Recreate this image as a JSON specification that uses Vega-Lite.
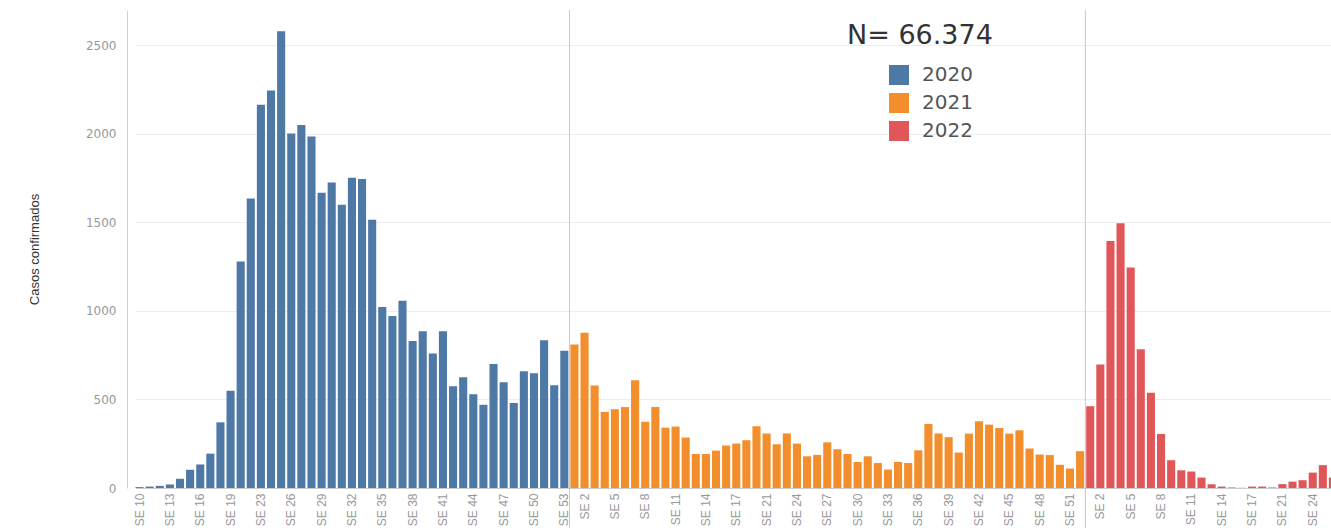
{
  "$schema": "https://vega.github.io/schema/vega-lite/v6.json",
  "width": 1204,
  "height": 478,
  "autosize": {"type": "none"},
  "padding": {"left": 127, "top": 10, "right": 0, "bottom": 40},
  "background": "white",
  "config": {"view": {"stroke": null}, "font": "DejaVu Sans"},
  "data": {"values": [
    {"sem": "2020 SE 10", "anio": "2020", "casos": 5},
    {"sem": "2020 SE 11", "anio": "2020", "casos": 8},
    {"sem": "2020 SE 12", "anio": "2020", "casos": 12},
    {"sem": "2020 SE 13", "anio": "2020", "casos": 20},
    {"sem": "2020 SE 14", "anio": "2020", "casos": 52},
    {"sem": "2020 SE 15", "anio": "2020", "casos": 103},
    {"sem": "2020 SE 16", "anio": "2020", "casos": 133},
    {"sem": "2020 SE 17", "anio": "2020", "casos": 194},
    {"sem": "2020 SE 18", "anio": "2020", "casos": 371},
    {"sem": "2020 SE 19", "anio": "2020", "casos": 550},
    {"sem": "2020 SE 20", "anio": "2020", "casos": 1280},
    {"sem": "2020 SE 21", "anio": "2020", "casos": 1635},
    {"sem": "2020 SE 23", "anio": "2020", "casos": 2165},
    {"sem": "2020 SE 24", "anio": "2020", "casos": 2245},
    {"sem": "2020 SE 25", "anio": "2020", "casos": 2580},
    {"sem": "2020 SE 26", "anio": "2020", "casos": 2002},
    {"sem": "2020 SE 27", "anio": "2020", "casos": 2050},
    {"sem": "2020 SE 28", "anio": "2020", "casos": 1985},
    {"sem": "2020 SE 29", "anio": "2020", "casos": 1668},
    {"sem": "2020 SE 30", "anio": "2020", "casos": 1725},
    {"sem": "2020 SE 31", "anio": "2020", "casos": 1600},
    {"sem": "2020 SE 32", "anio": "2020", "casos": 1752},
    {"sem": "2020 SE 33", "anio": "2020", "casos": 1745},
    {"sem": "2020 SE 34", "anio": "2020", "casos": 1515},
    {"sem": "2020 SE 35", "anio": "2020", "casos": 1022},
    {"sem": "2020 SE 36", "anio": "2020", "casos": 972},
    {"sem": "2020 SE 37", "anio": "2020", "casos": 1058},
    {"sem": "2020 SE 38", "anio": "2020", "casos": 830},
    {"sem": "2020 SE 39", "anio": "2020", "casos": 885},
    {"sem": "2020 SE 40", "anio": "2020", "casos": 760},
    {"sem": "2020 SE 41", "anio": "2020", "casos": 885},
    {"sem": "2020 SE 42", "anio": "2020", "casos": 575},
    {"sem": "2020 SE 43", "anio": "2020", "casos": 625},
    {"sem": "2020 SE 44", "anio": "2020", "casos": 530},
    {"sem": "2020 SE 45", "anio": "2020", "casos": 470},
    {"sem": "2020 SE 46", "anio": "2020", "casos": 700},
    {"sem": "2020 SE 47", "anio": "2020", "casos": 598},
    {"sem": "2020 SE 48", "anio": "2020", "casos": 480},
    {"sem": "2020 SE 49", "anio": "2020", "casos": 660},
    {"sem": "2020 SE 50", "anio": "2020", "casos": 648},
    {"sem": "2020 SE 51", "anio": "2020", "casos": 835},
    {"sem": "2020 SE 52", "anio": "2020", "casos": 580},
    {"sem": "2020 SE 53", "anio": "2020", "casos": 775},
    {"sem": "2021 SE 1", "anio": "2021", "casos": 811},
    {"sem": "2021 SE 2", "anio": "2021", "casos": 877},
    {"sem": "2021 SE 3", "anio": "2021", "casos": 579},
    {"sem": "2021 SE 4", "anio": "2021", "casos": 430},
    {"sem": "2021 SE 5", "anio": "2021", "casos": 445},
    {"sem": "2021 SE 6", "anio": "2021", "casos": 457},
    {"sem": "2021 SE 7", "anio": "2021", "casos": 608},
    {"sem": "2021 SE 8", "anio": "2021", "casos": 374},
    {"sem": "2021 SE 9", "anio": "2021", "casos": 458},
    {"sem": "2021 SE 10", "anio": "2021", "casos": 341},
    {"sem": "2021 SE 11", "anio": "2021", "casos": 347},
    {"sem": "2021 SE 12", "anio": "2021", "casos": 285},
    {"sem": "2021 SE 13", "anio": "2021", "casos": 192},
    {"sem": "2021 SE 14", "anio": "2021", "casos": 192},
    {"sem": "2021 SE 15", "anio": "2021", "casos": 211},
    {"sem": "2021 SE 16", "anio": "2021", "casos": 240},
    {"sem": "2021 SE 17", "anio": "2021", "casos": 251},
    {"sem": "2021 SE 18", "anio": "2021", "casos": 270},
    {"sem": "2021 SE 19", "anio": "2021", "casos": 349},
    {"sem": "2021 SE 21", "anio": "2021", "casos": 308},
    {"sem": "2021 SE 22", "anio": "2021", "casos": 247},
    {"sem": "2021 SE 23", "anio": "2021", "casos": 308},
    {"sem": "2021 SE 24", "anio": "2021", "casos": 251},
    {"sem": "2021 SE 25", "anio": "2021", "casos": 179},
    {"sem": "2021 SE 26", "anio": "2021", "casos": 187},
    {"sem": "2021 SE 27", "anio": "2021", "casos": 258},
    {"sem": "2021 SE 28", "anio": "2021", "casos": 219},
    {"sem": "2021 SE 29", "anio": "2021", "casos": 192},
    {"sem": "2021 SE 30", "anio": "2021", "casos": 147},
    {"sem": "2021 SE 31", "anio": "2021", "casos": 179},
    {"sem": "2021 SE 32", "anio": "2021", "casos": 141},
    {"sem": "2021 SE 33", "anio": "2021", "casos": 104},
    {"sem": "2021 SE 34", "anio": "2021", "casos": 147},
    {"sem": "2021 SE 35", "anio": "2021", "casos": 141},
    {"sem": "2021 SE 36", "anio": "2021", "casos": 213},
    {"sem": "2021 SE 37", "anio": "2021", "casos": 362},
    {"sem": "2021 SE 38", "anio": "2021", "casos": 308},
    {"sem": "2021 SE 39", "anio": "2021", "casos": 287},
    {"sem": "2021 SE 40", "anio": "2021", "casos": 200},
    {"sem": "2021 SE 41", "anio": "2021", "casos": 307},
    {"sem": "2021 SE 42", "anio": "2021", "casos": 377},
    {"sem": "2021 SE 43", "anio": "2021", "casos": 358},
    {"sem": "2021 SE 44", "anio": "2021", "casos": 339},
    {"sem": "2021 SE 45", "anio": "2021", "casos": 307},
    {"sem": "2021 SE 46", "anio": "2021", "casos": 326},
    {"sem": "2021 SE 47", "anio": "2021", "casos": 223},
    {"sem": "2021 SE 48", "anio": "2021", "casos": 189},
    {"sem": "2021 SE 49", "anio": "2021", "casos": 186},
    {"sem": "2021 SE 50", "anio": "2021", "casos": 131},
    {"sem": "2021 SE 51", "anio": "2021", "casos": 110},
    {"sem": "2021 SE 52", "anio": "2021", "casos": 208},
    {"sem": "2022 SE 1", "anio": "2022", "casos": 462},
    {"sem": "2022 SE 2", "anio": "2022", "casos": 697},
    {"sem": "2022 SE 3", "anio": "2022", "casos": 1395},
    {"sem": "2022 SE 4", "anio": "2022", "casos": 1495},
    {"sem": "2022 SE 5", "anio": "2022", "casos": 1245},
    {"sem": "2022 SE 6", "anio": "2022", "casos": 784},
    {"sem": "2022 SE 7", "anio": "2022", "casos": 538},
    {"sem": "2022 SE 8", "anio": "2022", "casos": 305},
    {"sem": "2022 SE 9", "anio": "2022", "casos": 157},
    {"sem": "2022 SE 10", "anio": "2022", "casos": 100},
    {"sem": "2022 SE 11", "anio": "2022", "casos": 93},
    {"sem": "2022 SE 12", "anio": "2022", "casos": 59},
    {"sem": "2022 SE 13", "anio": "2022", "casos": 21},
    {"sem": "2022 SE 14", "anio": "2022", "casos": 8},
    {"sem": "2022 SE 15", "anio": "2022", "casos": 3},
    {"sem": "2022 SE 16", "anio": "2022", "casos": 1},
    {"sem": "2022 SE 17", "anio": "2022", "casos": 8},
    {"sem": "2022 SE 18", "anio": "2022", "casos": 8},
    {"sem": "2022 SE 19", "anio": "2022", "casos": 3},
    {"sem": "2022 SE 21", "anio": "2022", "casos": 22},
    {"sem": "2022 SE 22", "anio": "2022", "casos": 36},
    {"sem": "2022 SE 23", "anio": "2022", "casos": 44},
    {"sem": "2022 SE 24", "anio": "2022", "casos": 87},
    {"sem": "2022 SE 25", "anio": "2022", "casos": 129},
    {"sem": "2022 SE 26", "anio": "2022", "casos": 59}
  ]},
  "layer": [
    {
      "mark": {"type": "bar", "clip": true},
      "encoding": {
        "x": {
          "field": "sem", "type": "ordinal", "sort": null,
          "scale": {"range": [8.5, 1210], "paddingInner": 0.2, "paddingOuter": 0},
          "axis": {
            "title": null,
            "values": ["2020 SE 10","2020 SE 13","2020 SE 16","2020 SE 19","2020 SE 23","2020 SE 26","2020 SE 29","2020 SE 32","2020 SE 35","2020 SE 38","2020 SE 41","2020 SE 44","2020 SE 47","2020 SE 50","2020 SE 53","2021 SE 2","2021 SE 5","2021 SE 8","2021 SE 11","2021 SE 14","2021 SE 17","2021 SE 21","2021 SE 24","2021 SE 27","2021 SE 30","2021 SE 33","2021 SE 36","2021 SE 39","2021 SE 42","2021 SE 45","2021 SE 48","2021 SE 51","2022 SE 2","2022 SE 5","2022 SE 8","2022 SE 11","2022 SE 14","2022 SE 17","2022 SE 21","2022 SE 24"],
            "labelExpr": "substring(datum.label, 5)",
            "labelAngle": 270, "labelAlign": "right", "labelBaseline": "middle",
            "labelPadding": 5, "labelFont": "Liberation Sans", "labelFontSize": 12,
            "labelColor": "#999999", "labelOverlap": false,
            "ticks": false, "grid": false, "domainColor": "#cccccc"
          }
        },
        "y": {
          "field": "casos", "type": "quantitative",
          "scale": {"domain": [0, 2700], "nice": false},
          "axis": {
            "title": "Casos confirmados", "titleFont": "Liberation Sans", "titleFontSize": 13,
            "titleFontWeight": "normal", "titleColor": "#333333", "titleX": -86, "titleY": 239,
            "values": [0, 500, 1000, 1500, 2000, 2500], "format": "d",
            "labelFont": "DejaVu Sans", "labelFontSize": 12, "labelColor": "#999999", "labelPadding": 11,
            "ticks": false, "grid": true, "gridColor": "#ededed", "domainColor": "#d0d0d0"
          }
        },
        "color": {
          "field": "anio", "type": "nominal",
          "scale": {"domain": ["2020", "2021", "2022"], "range": ["#4e79a7", "#f28e2b", "#e15759"]},
          "legend": {
            "orient": "none", "legendX": 720, "legendY": 13, "padding": 0,
            "title": "N= 66.374", "titleFont": "DejaVu Sans", "titleFontSize": 27,
            "titleFontWeight": "normal", "titleColor": "#333333", "titlePadding": 15, "titleLimit": 400,
            "symbolType": "square", "symbolSize": 400, "symbolStrokeWidth": 0, "symbolOpacity": 1,
            "symbolOffset": 42, "labelOffset": 13,
            "labelFont": "DejaVu Sans", "labelFontSize": 20, "labelColor": "#555555", "rowPadding": 8
          }
        }
      }
    },
    {
      "transform": [{"filter": "datum.sem == '2021 SE 1' || datum.sem == '2022 SE 1'"}],
      "mark": {"type": "rule", "color": "#c8c8c8", "strokeWidth": 1},
      "encoding": {
        "x": {"field": "sem", "type": "ordinal", "sort": null, "bandPosition": -0.1},
        "y": {"datum": 2700},
        "y2": {"datum": -230}
      }
    }
  ]
}
